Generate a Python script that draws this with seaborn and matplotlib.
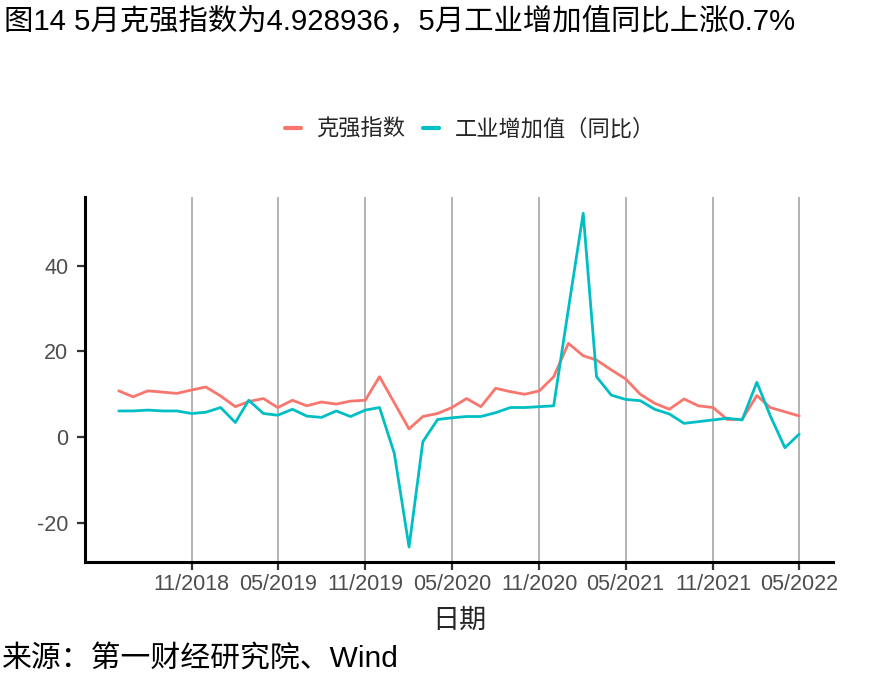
import matplotlib
matplotlib.use("Agg")
import matplotlib.pyplot as plt
import matplotlib.dates as mdates
import numpy as np
import pandas as pd
import seaborn as sns

# monthly, 06/2018 .. 05/2022
dates = pd.date_range("2018-06-01", "2022-05-01", freq="MS")

keqiang = [
    10.8, 9.4, 10.8, 10.5, 10.2, 11.0, 11.7,
    9.6, 7.1, 8.3, 9.0, 6.9, 8.6, 7.3, 8.2, 7.7, 8.4, 8.6, 14.1,
    8.0, 1.9, 4.8, 5.5, 6.9, 9.0, 7.1, 11.4, 10.6, 10.0, 10.8, 14.1,
    21.9, 19.0, 18.0, 15.7, 13.6, 10.0, 7.9, 6.5, 8.9, 7.3, 6.9, 4.1,
    4.1, 9.7, 6.9, 5.9, 4.928936,
]
industry = [
    6.1, 6.1, 6.3, 6.1, 6.1, 5.5, 5.8,
    6.9, 3.4, 8.6, 5.5, 5.1, 6.5, 4.9, 4.6, 6.1, 4.8, 6.3, 6.9,
    -3.8, -25.7, -1.1, 4.1, 4.5, 4.8, 4.8, 5.7, 6.9, 6.9, 7.1, 7.3,
    30.0, 52.3, 14.1, 9.8, 8.8, 8.5, 6.5, 5.4, 3.2, 3.6, 4.0, 4.4,
    4.0, 12.8, 5.0, -2.5, 0.7,
]
series_names = ["克强指数", "工业增加值（同比）"]
colors = ["#F8766D", "#00BFC4"]

df = pd.DataFrame({
    "日期": np.concatenate([dates, dates]),
    "value": keqiang + industry,
    "series": [series_names[0]] * len(dates) + [series_names[1]] * len(dates),
})

sns.set_theme(style="white")
plt.rcParams["font.family"] = ["Liberation Sans", "Noto Sans CJK SC"]
plt.rcParams["axes.unicode_minus"] = False

W, H = 885, 688
fig = plt.figure(figsize=(W / 100, H / 100), dpi=100)
ax = fig.add_axes([85 / W, 126 / H, 748 / W, 365 / H])

sns.lineplot(data=df, x="日期", y="value", hue="series", hue_order=series_names,
             palette=colors, linewidth=2.0, ax=ax)

ax.set_xlim(pd.Timestamp("2018-03-22"), pd.Timestamp("2022-07-11"))
ax.set_ylim(-29.2, 56.1)
ax.set_yticks([-20, 0, 20, 40])
ax.set_xticks(pd.date_range("2018-11-01", "2022-05-01", freq="6MS"))
ax.xaxis.set_major_formatter(mdates.DateFormatter("%m/%Y"))

ax.grid(axis="x", color="#B3B3B3", linewidth=1.4)
ax.grid(axis="y", visible=False)
for side in ["top", "right"]:
    ax.spines[side].set_visible(False)
for side in ["left", "bottom"]:
    ax.spines[side].set_color("black")
    ax.spines[side].set_linewidth(2.2)

ax.tick_params(axis="both", which="major", length=6, width=1.6, color="#333333",
               labelsize=15.5, labelcolor="#4D4D4D", bottom=True, left=True)
ax.tick_params(axis="x", pad=3)
ax.tick_params(axis="y", pad=6)
ax.set_xlabel("")
ax.set_ylabel("")

sns.move_legend(ax, "center", bbox_to_anchor=(470 / W, 1 - 130 / H),
                bbox_transform=fig.transFigure, ncol=2, title=None, frameon=False,
                fontsize=16, handlelength=0.7, handletextpad=0.7, columnspacing=0.8)
for line in ax.get_legend().get_lines():
    line.set_linewidth(3)

fig.text(459 / W, 1 - 621 / H, "日期", ha="center", va="center", fontsize=19.5)
fig.text(4 / W, 1 - 22 / H, "图14 5月克强指数为4.928936，5月工业增加值同比上涨0.7%",
         ha="left", va="center", fontsize=21.2, color="black")
fig.text(2 / W, 1 - 659 / H, "来源：第一财经研究院、Wind",
         ha="left", va="center", fontsize=21.5, color="black")

fig.savefig("out.png", dpi=100)
